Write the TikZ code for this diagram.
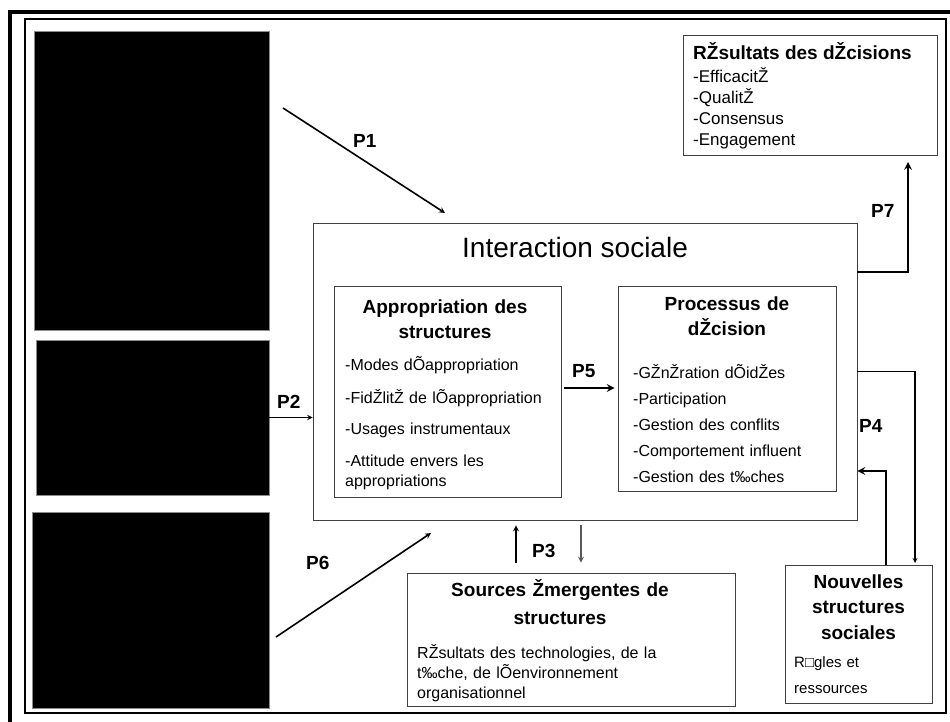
\documentclass[tikz,border=0pt]{standalone}
\usepackage{fontspec}
\setmainfont{Liberation Sans}
\usetikzlibrary{arrows}
\tikzstyle{box} = [rectangle, draw=black!75, line width=0.8pt, inner sep=0pt]
\tikzstyle{photo} = [rectangle, fill=black, draw=black!45, line width=0.8pt, inner sep=0pt]
\tikzstyle{head} = [inner sep=0pt, align=center, anchor=base, font=\bfseries\fontsize{19}{25}\selectfont]
\tikzstyle{items} = [inner sep=0pt, align=left, anchor=base west]
\tikzstyle{plabel} = [inner sep=0pt, anchor=base west, font=\bfseries\fontsize{19}{23}\selectfont]
\tikzstyle{arrow} = [thick, ->, >=stealth]

\begin{document}
\begin{tikzpicture}[x=1pt, y=-1pt]
		\useasboundingbox (0,0) rectangle (950,722);
		\coordinate (photoA) at (151.5,180.5);
		\coordinate (photoB) at (152.5,417.5);
		\coordinate (photoC) at (150.5,610);
		\coordinate (inter) at (585,371.5);
		\coordinate (appro) at (447.5,391.5);
		\coordinate (procs) at (727,388.5);
		\coordinate (results) at (810,95);
		\coordinate (sources) at (571,639.5);
		\coordinate (nouv) at (858.5,634);
		% Frame
		\draw[line width=3.5pt] (10,722) -- (10,12) -- (950,12);
		\draw[line width=1.6pt] (25,19) rectangle (946,713);
		% Pictures on the left
		\begin{scope}[every node/.style={photo}]
		\node[name=photoA, minimum width=235pt, minimum height=299pt] at (photoA) {};
		\node[name=photoB, minimum width=233pt, minimum height=155pt] at (photoB) {};
		\node[name=photoC, minimum width=237pt, minimum height=196pt] at (photoC) {};
		\end{scope}
		% Boxes
		\begin{scope}[every node/.style={box}]
		\node[name=inter, minimum width=544pt, minimum height=297pt] at (inter) {};
		\node[name=appro, minimum width=227pt, minimum height=211pt] at (appro) {};
		\node[name=procs, minimum width=218pt, minimum height=205pt] at (procs) {};
		\node[name=results, minimum width=254pt, minimum height=120pt] at (results) {};
		\node[name=sources, minimum width=328pt, minimum height=133pt] at (sources) {};
		\node[name=nouv, minimum width=147pt, minimum height=138pt] at (nouv) {};
		\end{scope}
		% Texts
		\node[inner sep=0pt, anchor=base west, font=\fontsize{28}{32}\selectfont] (interTitle) at (462,257) {Interaction sociale};
		\node[head, text width=227pt] (approHead) at (445,313) {Appropriation des\\structures};
		\node[items, text width=215pt, font=\fontsize{16}{20}\selectfont] (approItems) at (345,370) {-Modes dÕappropriation\\[13pt]-FidŽlitŽ de lÕappropriation\\[11pt]-Usages instrumentaux\\[12pt]-Attitude envers les\\appropriations};
		\node[head, text width=218pt] (procsHead) at (727,310) {Processus de\\dŽcision};
		\node[items, text width=200pt, font=\fontsize{16}{26}\selectfont] (procsItems) at (633,378) {-GŽnŽration dÕidŽes\\-Participation\\-Gestion des conflits\\-Comportement influent\\-Gestion des t‰ches};
		\node[items, font=\bfseries\fontsize{19}{23}\selectfont] (resultsHead) at (693,60) {RŽsultats des dŽcisions};
		\node[items, text width=230pt, font=\fontsize{17}{20.7}\selectfont] (resultsItems) at (693,83) {-EfficacitŽ\\-QualitŽ\\-Consensus\\-Engagement};
		\node[head, text width=313pt, font=\bfseries\fontsize{19}{28}\selectfont] (sourcesHead) at (560,596) {Sources Žmergentes de\\structures};
		\node[items, text width=300pt, font=\fontsize{16}{20}\selectfont] (sourcesItems) at (417,658) {RŽsultats des technologies, de la\\t‰che, de lÕenvironnement\\organisationnel};
		\node[head, text width=147pt, font=\bfseries\fontsize{19}{25.5}\selectfont] (nouvHead) at (858.5,588) {Nouvelles\\structures\\sociales};
		\node[items, text width=130pt, font=\fontsize{15}{26}\selectfont] (nouvItems) at (794,667) {R□gles et\\ressources};
		% Links
		\coordinate (p1from) at (283,108);
		\coordinate (p1to) at (445,213);
		\coordinate (p6from) at (276,637);
		\coordinate (p6to) at (431,533);
		\coordinate (p3up) at (516,563);
		\coordinate (p3down) at (581,525);
		\coordinate (p7turn) at (908,272);
		\coordinate (p7tip) at (908,162);
		\coordinate (p4down) at (915,563);
		\coordinate (p4up) at (886,471);
		\draw [arrow, line width=1.6pt] (p1from) -- (p1to);
		\draw [arrow, line width=1.4pt] (photoB.east) -- (photoB.east -| inter.west);
		\draw [arrow, line width=2.4pt, shorten <=3pt, shorten >=3pt] ([yshift=3.5pt]appro.east) -- ([yshift=3.5pt]appro.east -| procs.west);
		\draw [arrow, line width=1.6pt] (p6from) -- (p6to);
		\draw [arrow, line width=1.6pt, shorten >=5pt] (p3up) -- (p3up |- inter.south);
		\draw [arrow, line width=1.6pt, black!65, shorten >=10pt] (p3down) -- (p3down |- sources.north);
		\draw [arrow, line width=2.4pt] (inter.east |- p7turn) -- (p7turn) -- (p7tip);
		\draw [arrow, line width=1.2pt] (inter.east) -| (p4down);
		\draw [arrow, line width=2.4pt] (nouv.north -| p4up) |- (inter.east |- p4up);
		% Labels
		\node[plabel] (labelP1) at (353,148) {P1};
		\node[plabel] (labelP2) at (277,408) {P2};
		\node[plabel] (labelP3) at (532,557) {P3};
		\node[plabel] (labelP4) at (859,432) {P4};
		\node[plabel] (labelP5) at (572,377) {P5};
		\node[plabel] (labelP6) at (306,569) {P6};
		\node[plabel] (labelP7) at (871,218) {P7};
\end{tikzpicture}
\end{document}
